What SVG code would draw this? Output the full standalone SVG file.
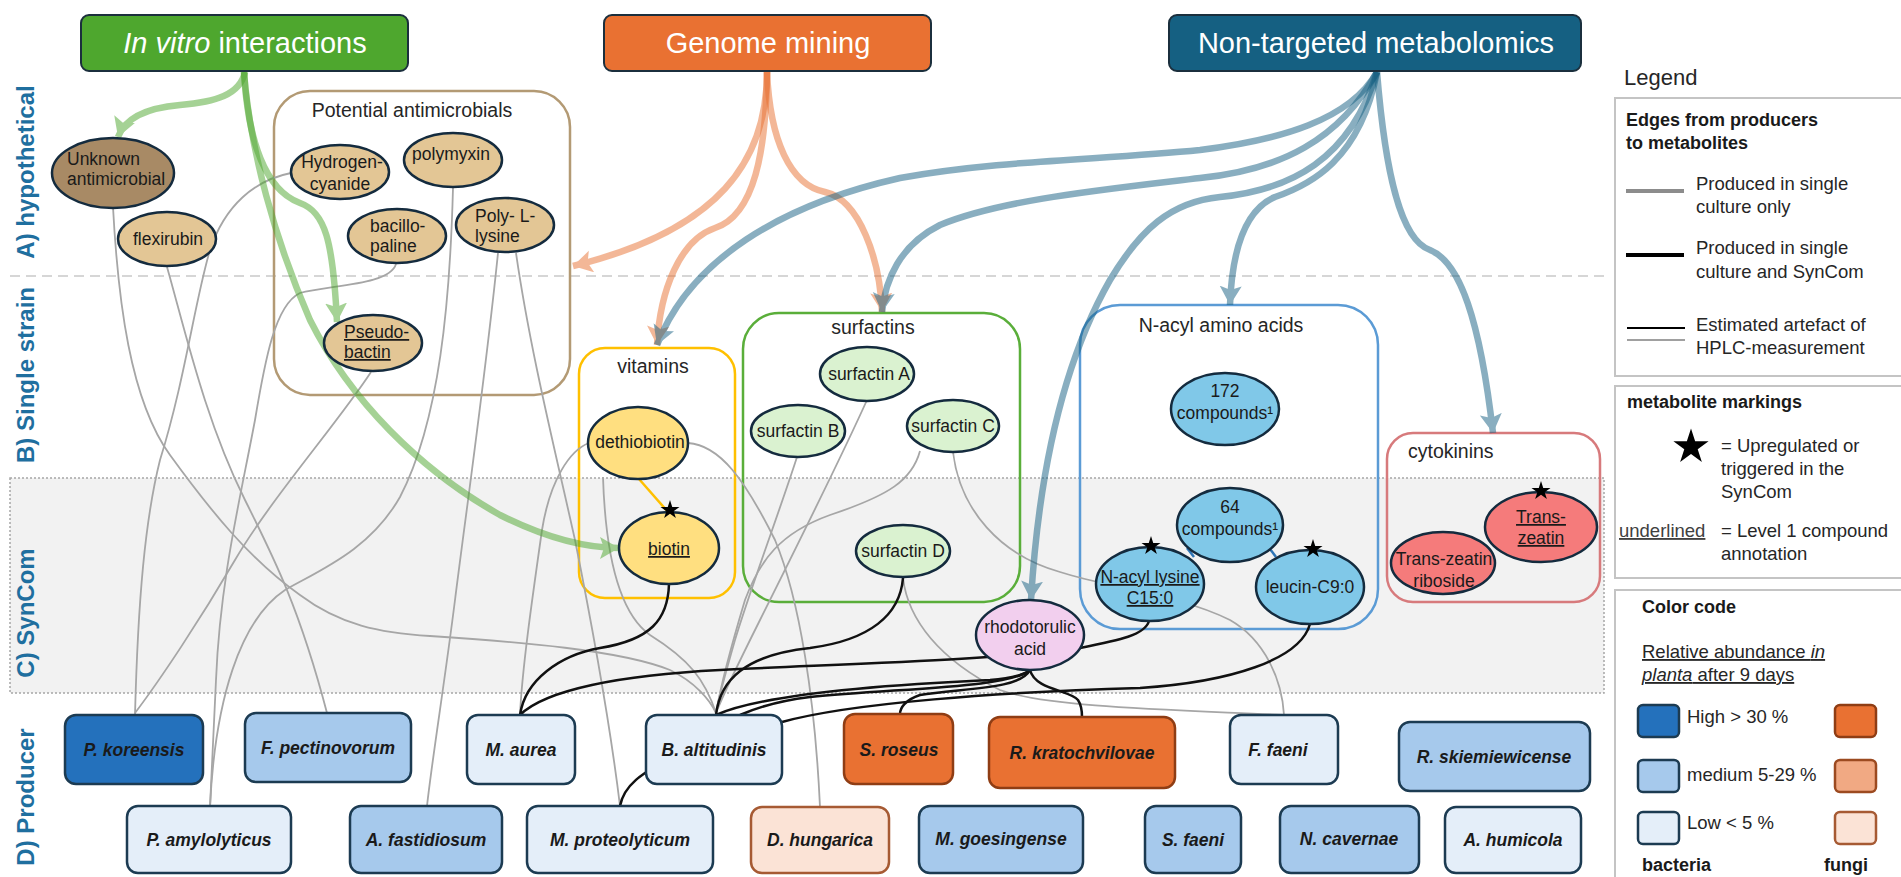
<svg xmlns="http://www.w3.org/2000/svg" width="1901" height="877" viewBox="0 0 1901 877">
  <style>
    text { font-family: "Liberation Sans", Arial, sans-serif; fill: #1a1a1a; }
    .hdr rect { stroke: #1b2f3d; stroke-width: 2; }
    .hdr text { fill: #ffffff; font-size: 29px; text-anchor: middle; }
    .sec { fill: #1f6f9f; font-size: 24px; font-weight: bold; text-anchor: middle; }
    .grp { fill: none; stroke-width: 2.5; }
    .gt { font-size: 19.5px; text-anchor: middle; fill: #262626; }
    .met ellipse { stroke: #142b3e; stroke-width: 2.5; }
    .met text { font-size: 17.5px; text-anchor: middle; }
    .met text.l { text-anchor: start; }
    .u { text-decoration: underline; }
    .prod rect { stroke: #1c3b52; stroke-width: 2.5; }
    .prod text { font-size: 17.5px; font-weight: bold; font-style: italic; text-anchor: middle; }
    .hi { fill: #2471bc; }
    .md { fill: #a6c9ec; }
    .lo { fill: #e4eef9; }
    .prod rect.fhi { fill: #e97132; stroke: #8f3d14; }
    .prod rect.flo { fill: #fbe3d6; stroke: #a65a33; }
    .g { fill: none; stroke: #a6a6a6; stroke-width: 1.8; }
    .k { fill: none; stroke: #111111; stroke-width: 2.5; }
    .arr { fill: none; stroke-width: 6.5; opacity: 0.5; }
    .leg { font-size: 18.5px; fill: #262626; }
    .legb { font-size: 18px; font-weight: bold; fill: #1a1a1a; }
    .lbox { fill: #ffffff; stroke: #c4c4c4; stroke-width: 2; }
  </style>
  <defs>
    <marker id="ah-green" markerUnits="userSpaceOnUse" markerWidth="24" markerHeight="24" refX="19" refY="11" orient="auto">
      <path d="M0,0 L19,11 L0,22 L4,11 z" fill="#4ea72e"/>
    </marker>
    <marker id="ah-orange" markerUnits="userSpaceOnUse" markerWidth="24" markerHeight="24" refX="19" refY="11" orient="auto">
      <path d="M0,0 L19,11 L0,22 L4,11 z" fill="#e97132"/>
    </marker>
    <marker id="ah-blue" markerUnits="userSpaceOnUse" markerWidth="24" markerHeight="24" refX="19" refY="11" orient="auto">
      <path d="M0,0 L19,11 L0,22 L4,11 z" fill="#156082"/>
    </marker>
    <path id="star" d="M0,-10 L2.245,-3.09 L9.511,-3.09 L3.633,1.18 L5.878,8.09 L0,3.82 L-5.878,8.09 L-3.633,1.18 L-9.511,-3.09 L-2.245,-3.09 z" fill="#000000"/>
  </defs>

  <rect width="1901" height="877" fill="#ffffff"/>

  <!-- SynCom band -->
  <rect x="10" y="478" width="1594" height="215" fill="#f2f2f2" stroke="#a6a6a6" stroke-width="1.5" stroke-dasharray="2 2"/>
  <!-- hypothetical / single strain divider -->
  <line x1="10" y1="276" x2="1605" y2="276" stroke="#d6d6d6" stroke-width="2" stroke-dasharray="10 6"/>

  <!-- section labels -->
  <text class="sec" transform="translate(34,172) rotate(-90)">A) hypothetical</text>
  <text class="sec" transform="translate(34,375) rotate(-90)">B) Single strain</text>
  <text class="sec" transform="translate(34,613) rotate(-90)">C) SynCom</text>
  <text class="sec" transform="translate(34,797) rotate(-90)">D) Producer</text>

  <!-- metabolite groups -->
  <g id="grp-antimicrobials">
    <rect class="grp" x="274" y="91" width="296" height="304" rx="36" stroke="#b39a74"/>
    <text class="gt" x="412" y="117">Potential antimicrobials</text>
  </g>
  <g id="grp-vitamins">
    <rect class="grp" x="579" y="348" width="156" height="250" rx="26" stroke="#ffc000"/>
    <text class="gt" x="653" y="373">vitamins</text>
  </g>
  <g id="grp-surfactins">
    <rect class="grp" x="743" y="313" width="277" height="289" rx="36" stroke="#5aae3a"/>
    <text class="gt" x="873" y="334">surfactins</text>
  </g>
  <g id="grp-nacyl">
    <rect class="grp" x="1080" y="305" width="298" height="324" rx="40" stroke="#5b9bd5"/>
    <text class="gt" x="1221" y="332">N-acyl amino acids</text>
  </g>
  <g id="grp-cytokinins">
    <rect class="grp" x="1387" y="433" width="213" height="169" rx="26" stroke="#d77a7c"/>
    <text class="gt" x="1408" y="458" style="text-anchor:start">cytokinins</text>
  </g>

  <!-- producer to metabolite edges -->
  <g id="edges">
    <!-- single culture only -->
    <path class="g" d="M291,173 C255,180 225,205 210,250 C195,300 185,380 160,460 C145,520 138,600 135,715"/>
    <path class="g" d="M371,372 C340,420 270,500 235,560 C200,620 160,680 135,713"/>
    <path class="g" d="M113,207 C118,300 130,400 170,455 C210,510 250,560 300,595 C340,625 380,633 430,636 C520,642 620,650 670,670 C695,682 710,700 716,713"/>
    <path class="g" d="M167,267 C185,330 205,420 245,500 C275,560 300,610 327,713"/>
    <path class="g" d="M453,188 C450,300 440,420 400,497 C370,550 320,570 285,590 C240,620 215,700 210,807"/>
    <path class="g" d="M396,264 C390,285 330,285 300,293 C275,305 265,360 255,420 C240,500 220,580 216,680 L210,807"/>
    <path class="g" d="M498,253 C485,380 465,520 455,600 C445,680 432,760 427,806"/>
    <path class="g" d="M516,253 C530,350 555,450 575,540 C595,640 612,740 620,806"/>
    <path class="g" d="M589,443 C570,450 550,480 542,530 C532,600 522,670 520,715"/>
    <path class="g" d="M688,443 C720,445 745,480 775,540 C800,600 815,700 820,807"/>
    <path class="g" d="M603,477 C605,540 615,610 650,635 C690,660 705,680 716,713"/>
    <path class="g" d="M867,400 C840,460 790,560 760,620 C740,660 725,690 716,713"/>
    <path class="g" d="M797,457 C780,510 750,590 735,640 C725,675 718,700 716,713"/>
    <path class="g" d="M920,451 C912,480 890,495 830,515 C780,533 760,560 745,600 C730,650 720,690 716,713"/>
    <path class="g" d="M953,452 C960,510 1000,555 1060,572 C1110,588 1180,595 1230,620 C1265,640 1282,680 1284,715"/>
    <path class="g" d="M903,578 C908,620 940,660 1000,690 C1050,708 1180,710 1284,715"/>
    <!-- single culture and SynCom -->
    <path class="k" d="M669,584 C668,620 650,640 600,648 C560,655 525,680 520,715"/>
    <path class="k" d="M520,715 C545,690 620,675 720,670 C840,664 1000,660 1080,648 C1120,640 1145,635 1149,621"/>
    <path class="k" d="M716,715 C720,680 745,655 810,648 C870,640 900,615 903,578"/>
    <path class="k" d="M716,715 C760,695 880,685 990,680 C1015,678 1028,673 1030,670"/>
    <path class="k" d="M620,806 C625,780 650,770 690,745 C720,725 745,705 810,697 C900,688 1010,688 1030,670"/>
    <path class="k" d="M1030,670 C1020,690 960,688 920,695 C905,700 900,708 900,714"/>
    <path class="k" d="M1030,670 C1035,690 1070,690 1078,700 C1082,706 1082,712 1082,717"/>
    <path class="k" d="M782,722 C850,703 1000,692 1140,688 C1230,682 1300,660 1310,624"/>
    <!-- links inside groups -->
    <line x1="639" y1="479" x2="668" y2="512" stroke="#ffc000" stroke-width="2.5"/>
    <line x1="1187" y1="548" x2="1194" y2="557" stroke="#2e75b6" stroke-width="2.5"/>
    <line x1="1270" y1="549" x2="1276" y2="557" stroke="#2e75b6" stroke-width="2.5"/>
  </g>

  <!-- method to metabolite arrows -->
  <g id="arrows">
    <path class="arr" stroke="#4ea72e" marker-end="url(#ah-green)" d="M245,72 C240,95 215,102 180,105 C145,108 125,118 118,137"/>
    <path class="arr" stroke="#4ea72e" marker-end="url(#ah-green)" d="M244,72 C248,140 265,190 300,203 C325,212 333,240 337,322"/>
    <path class="arr" stroke="#4ea72e" marker-end="url(#ah-green)" d="M244,72 C250,150 275,240 310,320 C350,400 420,470 500,515 C550,540 590,548 619,548"/>
    <path class="arr" stroke="#e97132" marker-end="url(#ah-orange)" d="M767,72 C767,160 720,230 573,266"/>
    <path class="arr" stroke="#e97132" marker-end="url(#ah-orange)" d="M767,72 C766,150 755,215 715,228 C680,240 660,290 657,345"/>
    <path class="arr" stroke="#e97132" marker-end="url(#ah-orange)" d="M767,72 C770,140 790,185 825,192 C860,200 880,260 882,312"/>
    <path class="arr" stroke="#156082" marker-end="url(#ah-blue)" d="M1377,72 C1350,120 1280,140 1200,150 C1100,160 1000,160 900,178 C780,205 690,260 657,345"/>
    <path class="arr" stroke="#156082" marker-end="url(#ah-blue)" d="M1377,72 C1340,140 1280,170 1200,178 C1100,190 1000,200 940,225 C900,245 885,280 882,312"/>
    <path class="arr" stroke="#156082" marker-end="url(#ah-blue)" d="M1377,72 C1350,160 1290,190 1220,197 C1170,202 1140,230 1110,280 C1070,350 1040,450 1031,600"/>
    <path class="arr" stroke="#156082" marker-end="url(#ah-blue)" d="M1377,72 C1360,160 1310,185 1275,197 C1245,210 1232,250 1230,305"/>
    <path class="arr" stroke="#156082" marker-end="url(#ah-blue)" d="M1377,72 C1385,170 1400,240 1430,250 C1460,262 1480,320 1493,433"/>
  </g>

  <!-- method headers -->
  <g id="hdr-invitro" class="hdr">
    <rect x="81" y="15" width="327" height="56" rx="8" fill="#4ea72e"/>
    <text x="245" y="53"><tspan font-style="italic">In vitro</tspan> interactions</text>
  </g>
  <g id="hdr-genome" class="hdr">
    <rect x="604" y="15" width="327" height="56" rx="8" fill="#e97132"/>
    <text x="768" y="53">Genome mining</text>
  </g>
  <g id="hdr-metabolomics" class="hdr">
    <rect x="1169" y="15" width="412" height="56" rx="8" fill="#156082"/>
    <text x="1376" y="53">Non-targeted metabolomics</text>
  </g>

  <!-- metabolites -->
  <g id="m-unknown" class="met">
    <ellipse cx="113" cy="173" rx="61" ry="35" fill="#a88a65"/>
    <text class="l" x="67" y="165">Unknown</text>
    <text class="l" x="67" y="185">antimicrobial</text>
  </g>
  <g id="m-flexirubin" class="met">
    <ellipse cx="167" cy="239" rx="49" ry="27" fill="#e3c695"/>
    <text x="168" y="245">flexirubin</text>
  </g>
  <g id="m-hcn" class="met">
    <ellipse cx="340" cy="172" rx="49" ry="27" fill="#e3c695"/>
    <text x="342" y="168">Hydrogen-</text>
    <text x="340" y="190">cyanide</text>
  </g>
  <g id="m-polymyxin" class="met">
    <ellipse cx="453" cy="160" rx="49" ry="27" fill="#e3c695"/>
    <text x="451" y="160">polymyxin</text>
  </g>
  <g id="m-bacillopaline" class="met">
    <ellipse cx="397" cy="236" rx="49" ry="27" fill="#e3c695"/>
    <text class="l" x="370" y="232">bacillo-</text>
    <text class="l" x="370" y="252">paline</text>
  </g>
  <g id="m-polylysine" class="met">
    <ellipse cx="505" cy="225" rx="49" ry="27" fill="#e3c695"/>
    <text class="l" x="475" y="222">Poly- L-</text>
    <text class="l" x="475" y="242">lysine</text>
  </g>
  <g id="m-pseudobactin" class="met">
    <ellipse cx="373" cy="343" rx="49" ry="28" fill="#e3c695"/>
    <text class="l u" x="344" y="338">Pseudo-</text>
    <text class="l u" x="344" y="358">bactin</text>
  </g>
  <g id="m-dethiobiotin" class="met">
    <ellipse cx="638" cy="443" rx="50" ry="36" fill="#ffdf80"/>
    <text x="640" y="448">dethiobiotin</text>
  </g>
  <g id="m-biotin" class="met">
    <ellipse cx="669" cy="548" rx="50" ry="36" fill="#ffdf80"/>
    <text class="u" x="669" y="555">biotin</text>
    <use href="#star" x="670" y="510"/>
  </g>
  <g id="m-surfactinA" class="met">
    <ellipse cx="867" cy="374" rx="47" ry="27" fill="#daf2d0"/>
    <text x="869" y="380">surfactin A</text>
  </g>
  <g id="m-surfactinB" class="met">
    <ellipse cx="798" cy="431" rx="47" ry="26" fill="#daf2d0"/>
    <text x="798" y="437">surfactin B</text>
  </g>
  <g id="m-surfactinC" class="met">
    <ellipse cx="953" cy="426" rx="46" ry="26" fill="#daf2d0"/>
    <text x="953" y="432">surfactin C</text>
  </g>
  <g id="m-surfactinD" class="met">
    <ellipse cx="903" cy="551" rx="47" ry="26" fill="#daf2d0"/>
    <text x="903" y="557">surfactin D</text>
  </g>
  <g id="m-172" class="met">
    <ellipse cx="1225" cy="409" rx="54" ry="36" fill="#80c8e8"/>
    <text x="1225" y="397">172</text>
    <text x="1225" y="419">compounds¹</text>
  </g>
  <g id="m-64" class="met">
    <ellipse cx="1230" cy="525" rx="53" ry="37" fill="#80c8e8"/>
    <text x="1230" y="513">64</text>
    <text x="1230" y="535">compounds¹</text>
  </g>
  <g id="m-nacyllysine" class="met">
    <ellipse cx="1150" cy="584" rx="54" ry="37" fill="#80c8e8"/>
    <text class="u" x="1150" y="583">N-acyl lysine</text>
    <text class="u" x="1150" y="604">C15:0</text>
    <use href="#star" x="1151" y="546"/>
  </g>
  <g id="m-leucin" class="met">
    <ellipse cx="1310" cy="587" rx="54" ry="37" fill="#80c8e8"/>
    <text x="1310" y="593">leucin-C9:0</text>
    <use href="#star" x="1313" y="549"/>
  </g>
  <g id="m-rhodotorulic" class="met">
    <ellipse cx="1030" cy="635" rx="54" ry="35" fill="#f2cfee"/>
    <text x="1030" y="633">rhodotorulic</text>
    <text x="1030" y="655">acid</text>
  </g>
  <g id="m-transzeatin" class="met">
    <ellipse cx="1541" cy="527" rx="56" ry="35" fill="#f57b7b"/>
    <text class="u" x="1541" y="523">Trans-</text>
    <text class="u" x="1541" y="544">zeatin</text>
    <use href="#star" x="1541" y="491"/>
  </g>
  <g id="m-transzeatinriboside" class="met">
    <ellipse cx="1443" cy="563" rx="52" ry="31" fill="#f57b7b"/>
    <text x="1444" y="565">Trans-zeatin</text>
    <text x="1444" y="587">riboside</text>
  </g>

  <!-- producers -->
  <g id="p-koreensis" class="prod"><rect class="hi" x="65" y="715" width="138" height="69" rx="11"/><text x="134" y="756">P. koreensis</text></g>
  <g id="p-pectinovorum" class="prod"><rect class="md" x="245" y="713" width="166" height="69" rx="11"/><text x="328" y="754">F. pectinovorum</text></g>
  <g id="p-aurea" class="prod"><rect class="lo" x="467" y="715" width="108" height="69" rx="11"/><text x="521" y="756">M. aurea</text></g>
  <g id="p-altitudinis" class="prod"><rect class="lo" x="646" y="715" width="136" height="69" rx="11"/><text x="714" y="756">B. altitudinis</text></g>
  <g id="p-roseus" class="prod"><rect class="fhi" x="844" y="714" width="109" height="70" rx="11"/><text x="899" y="756">S. roseus</text></g>
  <g id="p-kratochvilovae" class="prod"><rect class="fhi" x="989" y="717" width="186" height="71" rx="11"/><text x="1082" y="759">R. kratochvilovae</text></g>
  <g id="p-ffaeni" class="prod"><rect class="lo" x="1230" y="715" width="108" height="69" rx="11"/><text x="1278" y="756">F. faeni</text></g>
  <g id="p-skiemiewicense" class="prod"><rect class="md" x="1399" y="722" width="191" height="69" rx="11"/><text x="1494" y="763">R. skiemiewicense</text></g>
  <g id="p-amylolyticus" class="prod"><rect class="lo" x="127" y="806" width="164" height="67" rx="11"/><text x="209" y="846">P. amylolyticus</text></g>
  <g id="p-fastidiosum" class="prod"><rect class="md" x="350" y="806" width="152" height="67" rx="11"/><text x="426" y="846">A. fastidiosum</text></g>
  <g id="p-proteolyticum" class="prod"><rect class="lo" x="527" y="806" width="186" height="67" rx="11"/><text x="620" y="846">M. proteolyticum</text></g>
  <g id="p-hungarica" class="prod"><rect class="flo" x="751" y="807" width="138" height="66" rx="11"/><text x="820" y="846">D. hungarica</text></g>
  <g id="p-goesingense" class="prod"><rect class="md" x="919" y="806" width="164" height="67" rx="11"/><text x="1001" y="845">M. goesingense</text></g>
  <g id="p-sfaeni" class="prod"><rect class="md" x="1145" y="806" width="96" height="67" rx="11"/><text x="1193" y="846">S. faeni</text></g>
  <g id="p-cavernae" class="prod"><rect class="md" x="1280" y="806" width="139" height="67" rx="11"/><text x="1349" y="845">N. cavernae</text></g>
  <g id="p-humicola" class="prod"><rect class="lo" x="1445" y="807" width="136" height="66" rx="11"/><text x="1513" y="846">A. humicola</text></g>

  <!-- legend -->
  <g id="legend">
    <text x="1624" y="85" style="font-size:22px;fill:#262626">Legend</text>
    <rect class="lbox" x="1615" y="98" width="300" height="278"/>
    <text class="legb" x="1626" y="126">Edges from producers</text>
    <text class="legb" x="1626" y="149">to metabolites</text>
    <line x1="1626" y1="191" x2="1684" y2="191" stroke="#8c8c8c" stroke-width="4"/>
    <text class="leg" x="1696" y="190">Produced in single</text>
    <text class="leg" x="1696" y="213">culture only</text>
    <line x1="1626" y1="255" x2="1684" y2="255" stroke="#000000" stroke-width="4"/>
    <text class="leg" x="1696" y="254">Produced in single</text>
    <text class="leg" x="1696" y="278">culture and SynCom</text>
    <line x1="1627" y1="328" x2="1685" y2="328" stroke="#000000" stroke-width="2"/>
    <line x1="1627" y1="340" x2="1685" y2="340" stroke="#a0a0a0" stroke-width="2"/>
    <text class="leg" x="1696" y="331">Estimated artefact of</text>
    <text class="leg" x="1696" y="354">HPLC-measurement</text>

    <rect class="lbox" x="1615" y="386" width="300" height="192"/>
    <text class="legb" x="1627" y="408">metabolite markings</text>
    <use href="#star" transform="translate(1691,447) scale(1.85)"/>
    <text class="leg" x="1721" y="452">= Upregulated or</text>
    <text class="leg" x="1721" y="475">triggered in the</text>
    <text class="leg" x="1721" y="498">SynCom</text>
    <text class="leg u" x="1619" y="537" style="fill:#404040">underlined</text>
    <text class="leg" x="1721" y="537">= Level 1 compound</text>
    <text class="leg" x="1721" y="560">annotation</text>

    <rect class="lbox" x="1615" y="590" width="300" height="300"/>
    <text class="legb" x="1642" y="613">Color code</text>
    <text class="leg u" x="1642" y="658">Relative abundance <tspan font-style="italic">in</tspan></text>
    <text class="leg u" x="1642" y="681"><tspan font-style="italic">planta</tspan>  after 9 days</text>
    <rect x="1638" y="705" width="41" height="32" rx="5" fill="#2471bc" stroke="#1c3b52" stroke-width="2.5"/>
    <rect x="1638" y="760" width="41" height="32" rx="5" fill="#a6c9ec" stroke="#1c3b52" stroke-width="2.5"/>
    <rect x="1638" y="812" width="41" height="32" rx="5" fill="#e4eef9" stroke="#1c3b52" stroke-width="2.5"/>
    <rect x="1835" y="705" width="41" height="32" rx="5" fill="#e97132" stroke="#8f3d14" stroke-width="2.5"/>
    <rect x="1835" y="760" width="41" height="32" rx="5" fill="#f1a983" stroke="#9c4a20" stroke-width="2.5"/>
    <rect x="1835" y="812" width="41" height="32" rx="5" fill="#fbe3d6" stroke="#a65a33" stroke-width="2.5"/>
    <text class="leg" x="1687" y="723">High &gt; 30 %</text>
    <text class="leg" x="1687" y="781">medium  5-29 %</text>
    <text class="leg" x="1687" y="829">Low &lt; 5 %</text>
    <text class="legb" x="1642" y="871">bacteria</text>
    <text class="legb" x="1824" y="871">fungi</text>
  </g>
</svg>
